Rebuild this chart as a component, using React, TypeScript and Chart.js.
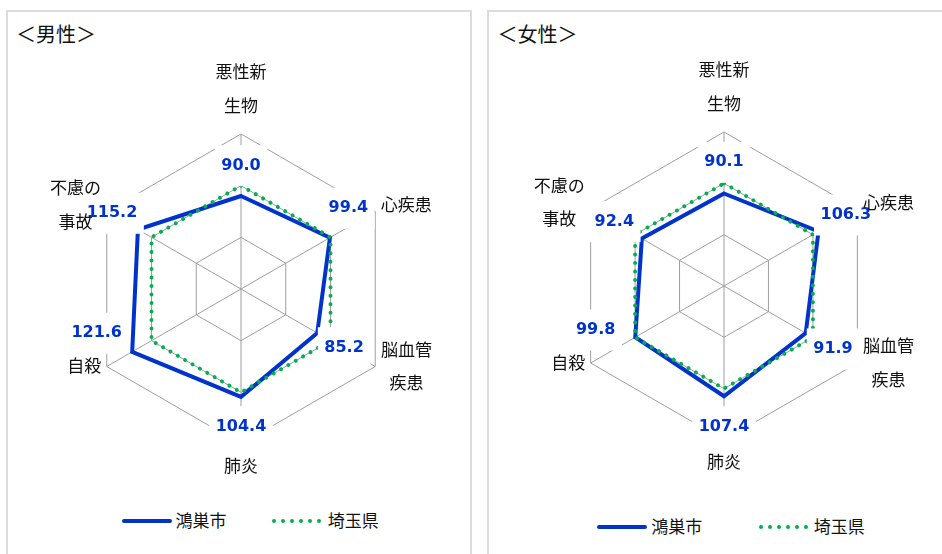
import React, { useEffect, useRef } from 'react';
import { Chart, registerables } from 'chart.js';

Chart.register(...registerables);

// ---------- data ----------
const CATEGORIES: string[][] = [['悪性新', '生物'], ['心疾患'], ['脳血管', '疾患'], ['肺炎'], ['自殺'], ['不慮の', '事故']];
const SERIES_NAMES = ['鴻巣市', '埼玉県'];
const MALE_KOUNOSU = [90.0, 99.4, 85.2, 104.4, 121.6, 115.2];
const MALE_SAITAMA = [100, 100, 100, 100, 100, 100];
const FEMALE_KOUNOSU = [90.1, 106.3, 91.9, 107.4, 99.8, 92.4];
const FEMALE_SAITAMA = [100, 100, 100, 100, 100, 100];
const SCALE_MIN = 0;
const SCALE_MAX = 150;
const SCALE_STEP = 50;

// ---------- style ----------
const BLUE = '#0033cc';
const GREEN = '#00b050';
const GRID = '#9e9e9e';
const TEXT = '#111111';
const BORDER = '#dcdcdc';
const CJK = '"Noto Sans CJK JP", "Noto Sans", sans-serif';
const NUM_FONT = 'bold 16px "DejaVu Sans", sans-serif';
const CAT_FONT = `17px ${CJK}`;
const CAT_LINE_H = 33.5;

const SERIES_STYLE = [
  { color: BLUE, width: 4, dotted: false },
  { color: GREEN, width: 4, dotted: true },
];

// category label offsets from the outer vertex of each axis
const CATEGORY_OFFSETS = [[0, -45.5], [31.1, -6.5], [31.2, -0.5], [0, 21.2], [-22.5, -0.7], [-31.3, -7.2]];

const radarLabelsPlugin = {
  id: 'radarLabels',
  afterDatasetsDraw(chart: any, _args: any, opts: any) {
    const scale = chart.scales.r;
    const ctx = chart.ctx as CanvasRenderingContext2D;
    ctx.save();
    ctx.textAlign = 'center';
    ctx.textBaseline = 'middle';

    // value labels of the city series
    const ds = chart.data.datasets[opts.datasetIndex];
    ctx.font = NUM_FONT;
    (ds.data as number[]).forEach((v, i) => {
      const p = scale.getPointPositionForValue(i, v);
      const [dx, dy] = opts.valueOffsets[i];
      const x = p.x + dx;
      const y = p.y + dy;
      const text = v.toFixed(1);
      const w = ctx.measureText(text).width + opts.boxPadX * 2;
      ctx.fillStyle = '#ffffff';
      ctx.fillRect(x - w / 2, y - opts.boxH / 2, w, opts.boxH);
      ctx.fillStyle = BLUE;
      ctx.fillText(text, x, y);
    });

    // category labels
    ctx.font = CAT_FONT;
    ctx.fillStyle = TEXT;
    (chart.data.labels as any[]).forEach((lab, i) => {
      const lines: string[] = Array.isArray(lab) ? lab : [lab];
      const v = scale.getPointPosition(i, scale.drawingArea);
      const [dx, dy] = CATEGORY_OFFSETS[i];
      lines.forEach((ln, k) => {
        ctx.fillText(ln, v.x + dx, v.y + dy + (k - (lines.length - 1) / 2) * CAT_LINE_H);
      });
    });
    ctx.restore();
  },
};

type PanelCfg = {
  key: string;
  title: string;
  city: number[];
  pref: number[];
  boxLeft: number;
  titleLeft: number;
  canvas: { left: number; top: number; width: number; height: number; pad: { left: number; right: number; top: number; bottom: number } };
  valueOffsets: number[][];
  legend: { centerY: number; swatchX: number[]; textX: number[] };
};

const PANELS: PanelCfg[] = [
  {
    key: 'male',
    title: '＜男性＞',
    city: MALE_KOUNOSU,
    pref: MALE_SAITAMA,
    boxLeft: 6,
    titleLeft: 16,
    canvas: { left: 8, top: 50, width: 462, height: 450, pad: { left: 78, right: 74, top: 84, bottom: 56 } },
    valueOffsets: [[0, -30.3], [18.4, -29.3], [26.8, 14.7], [0, 29.8], [-35.5, -18.5], [-25.9, -16.2]],
    legend: { centerY: 520.7, swatchX: [121.7, 271.7], textX: [175.5, 327.8] },
  },
  {
    key: 'female',
    title: '＜女性＞',
    city: FEMALE_KOUNOSU,
    pref: FEMALE_SAITAMA,
    boxLeft: 487,
    titleLeft: 497.5,
    canvas: { left: 488, top: 50, width: 452, height: 450, pad: { left: 82, right: 62, top: 82, bottom: 60 } },
    valueOffsets: [[0, -31.2], [27.3, -16.4], [27.3, 15.8], [0, 30.4], [-39.6, -7.2], [-27.5, -16.9]],
    legend: { centerY: 526.7, swatchX: [596.7, 758.5], textX: [651.2, 813.8] },
  },
];

function RadarCanvas({ cfg }: { cfg: PanelCfg }) {
  const ref = useRef<HTMLCanvasElement | null>(null);
  useEffect(() => {
    if (!ref.current) return;
    const chart = new Chart(ref.current, {
      type: 'radar',
      data: {
        labels: CATEGORIES,
        datasets: [
          {
            label: SERIES_NAMES[0],
            data: cfg.city,
            borderColor: SERIES_STYLE[0].color,
            borderWidth: SERIES_STYLE[0].width,
            backgroundColor: 'transparent',
            fill: false,
            pointRadius: 0,
            order: 2,
          },
          {
            label: SERIES_NAMES[1],
            data: cfg.pref,
            borderColor: SERIES_STYLE[1].color,
            borderWidth: SERIES_STYLE[1].width,
            borderDash: [0.01, 8.5],
            borderCapStyle: 'round',
            backgroundColor: 'transparent',
            fill: false,
            pointRadius: 0,
            order: 1,
          },
        ],
      },
      options: {
        responsive: false,
        animation: false,
        devicePixelRatio: 1,
        events: [],
        layout: { padding: cfg.canvas.pad },
        elements: { line: { tension: 0 }, point: { radius: 0 } },
        scales: {
          r: {
            min: SCALE_MIN,
            max: SCALE_MAX,
            ticks: { stepSize: SCALE_STEP, display: false },
            grid: { color: GRID, lineWidth: 1 },
            angleLines: { color: GRID, lineWidth: 1 },
            pointLabels: { display: false },
          },
        },
        plugins: {
          legend: { display: false },
          tooltip: { enabled: false },
          radarLabels: { datasetIndex: 0, valueOffsets: cfg.valueOffsets, boxPadX: 6.5, boxH: 41 },
        } as any,
      },
      plugins: [radarLabelsPlugin],
    } as any);
    return () => chart.destroy();
  }, [cfg]);
  const c = cfg.canvas;
  return (
    <canvas
      ref={ref}
      width={c.width}
      height={c.height}
      style={{ position: 'absolute', left: c.left, top: c.top, width: c.width, height: c.height }}
    />
  );
}

function Legend({ cfg }: { cfg: PanelCfg }) {
  const L = cfg.legend;
  return (
    <>
      {SERIES_NAMES.map((name, i) => {
        const st = SERIES_STYLE[i];
        const swatch = st.dotted ? (
          <div style={{ position: 'absolute', left: L.swatchX[i], top: L.centerY - 2, display: 'flex', gap: 5 }}>
            {Array.from({ length: 6 }, (_, k) => (
              <span key={k} style={{ display: 'block', width: 4, height: 4, borderRadius: 2, background: st.color }} />
            ))}
          </div>
        ) : (
          <div style={{ position: 'absolute', left: L.swatchX[i], top: L.centerY - 2, width: 50, height: 4, borderRadius: 2, background: st.color }} />
        );
        return (
          <React.Fragment key={name}>
            {swatch}
            <div style={{ position: 'absolute', left: L.textX[i], top: L.centerY - 11, fontSize: 17, lineHeight: '20px', whiteSpace: 'nowrap', color: TEXT }}>
              {name}
            </div>
          </React.Fragment>
        );
      })}
    </>
  );
}

export default function App() {
  return (
    <div
      style={{
        position: 'absolute',
        left: 0,
        top: 0,
        width: 942,
        height: 554,
        overflow: 'hidden',
        background: '#ffffff',
        fontFamily: CJK,
      }}
    >
      {PANELS.map((p) => (
        <React.Fragment key={p.key}>
          <div
            style={{
              position: 'absolute',
              left: p.boxLeft,
              top: 10,
              width: 466,
              height: 600,
              boxSizing: 'border-box',
              border: `2px solid ${BORDER}`,
            }}
          />
          <div style={{ position: 'absolute', left: p.titleLeft, top: 24, fontSize: 20, lineHeight: '20px', color: TEXT, whiteSpace: 'nowrap' }}>
            {p.title}
          </div>
          <RadarCanvas cfg={p} />
          <Legend cfg={p} />
        </React.Fragment>
      ))}
    </div>
  );
}
